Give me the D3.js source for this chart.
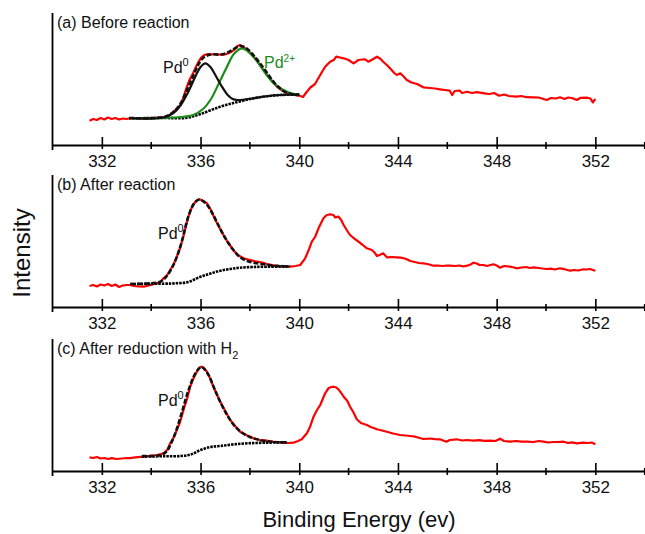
<!DOCTYPE html>
<html>
<head>
<meta charset="utf-8">
<script src="https://cdn.jsdelivr.net/npm/d3@7"></script>
<style>
  html, body { margin: 0; padding: 0; background: #fff; }
  svg { display: block; font-family: "Liberation Sans", Arial, sans-serif; }
</style>
</head>
<body>
<div id="chart"></div>
<script>
// binding energy ticks (eV)
const majorTicks = [332, 336, 340, 344, 348, 352];
const minorTicks = [334, 338, 342, 346, 350, 354];

// (a) before reaction: [energy, intensity a.u.]
const rawA = [
  [331.5, 0.243], [331.65, 0.26], [331.8, 0.25], [331.95, 0.27], [332.1, 0.255], [332.25, 0.275],
  [332.4, 0.26], [332.55, 0.27], [332.7, 0.255], [332.85, 0.265], [333.0, 0.26], [333.2, 0.27],
  [333.4, 0.265], [333.6, 0.27], [333.8, 0.268], [334.0, 0.27], [334.2, 0.272], [334.4, 0.275],
  [334.6, 0.28], [334.75, 0.30], [334.9, 0.333], [335.1, 0.37], [335.25, 0.43], [335.4, 0.55],
  [335.55, 0.65], [335.7, 0.72], [335.85, 0.80], [335.95, 0.845], [336.05, 0.88], [336.15, 0.9],
  [336.3, 0.91], [336.45, 0.905], [336.6, 0.91], [336.75, 0.905], [336.9, 0.90], [337.05, 0.91],
  [337.2, 0.925], [337.35, 0.95], [337.5, 0.99], [337.6, 1.0], [337.75, 0.975], [337.9, 0.95],
  [338.1, 0.90], [338.3, 0.84], [338.55, 0.75], [338.8, 0.67], [339.1, 0.583], [339.3, 0.545],
  [339.5, 0.52], [339.8, 0.50], [340.05, 0.49], [340.15, 0.48], [340.3, 0.53], [340.45, 0.575],
  [340.64, 0.61], [340.85, 0.70], [341.05, 0.783], [341.25, 0.833], [341.4, 0.85], [341.5, 0.883],
  [341.65, 0.875], [341.8, 0.867], [342.0, 0.85], [342.2, 0.817], [342.4, 0.85], [342.55, 0.855],
  [342.67, 0.857], [342.8, 0.833], [343.0, 0.86], [343.15, 0.883], [343.3, 0.86], [343.4, 0.833],
  [343.55, 0.80], [343.68, 0.767], [343.85, 0.72], [343.95, 0.70], [344.1, 0.717], [344.25, 0.68],
  [344.36, 0.65], [344.55, 0.625], [344.77, 0.61], [345.03, 0.577], [345.3, 0.57], [345.5, 0.565],
  [345.7, 0.557], [345.9, 0.55], [346.1, 0.543], [346.2, 0.50], [346.3, 0.54], [346.5, 0.545],
  [346.6, 0.52], [346.8, 0.533], [347.0, 0.52], [347.2, 0.528], [347.5, 0.517], [347.7, 0.51],
  [347.9, 0.52], [348.1, 0.493], [348.3, 0.505], [348.5, 0.49], [348.8, 0.483], [349.0, 0.49],
  [349.2, 0.478], [349.5, 0.477], [349.7, 0.475], [349.9, 0.46], [350.03, 0.45], [350.2, 0.47],
  [350.4, 0.465], [350.57, 0.477], [350.75, 0.46], [350.9, 0.475], [351.05, 0.47], [351.25, 0.45],
  [351.4, 0.472], [351.65, 0.473], [351.8, 0.465], [351.9, 0.427], [352.0, 0.46]
];
const envA = [
  [333.1, 0.27], [334.5, 0.28], [334.9, 0.33], [335.2, 0.42], [335.45, 0.55], [335.7, 0.69],
  [335.9, 0.80], [336.1, 0.87], [336.4, 0.905], [336.8, 0.905], [337.1, 0.925], [337.35, 0.96],
  [337.6, 0.99], [337.85, 0.97], [338.1, 0.91], [338.4, 0.82], [338.7, 0.72], [339.0, 0.62],
  [339.3, 0.55], [339.6, 0.515], [340.0, 0.50]
];
const pd0A = [
  [333.1, 0.27], [334.5, 0.275], [334.9, 0.32], [335.2, 0.40], [335.5, 0.53], [335.8, 0.69],
  [336.0, 0.78], [336.2, 0.817], [336.4, 0.78], [336.6, 0.70], [336.85, 0.59], [337.1, 0.50],
  [337.3, 0.46], [337.5, 0.45], [338.14, 0.467], [338.6, 0.485], [339.23, 0.50], [340.0, 0.505]
];
const pd2A = [
  [333.3, 0.267], [334.5, 0.27], [335.2, 0.28], [335.7, 0.30], [336.1, 0.36], [336.4, 0.45],
  [336.75, 0.62], [337.07, 0.783], [337.35, 0.91], [337.67, 0.967], [337.9, 0.94], [338.14, 0.883],
  [338.4, 0.80], [338.68, 0.70], [339.0, 0.61], [339.36, 0.55], [339.7, 0.515], [340.0, 0.505]
];
const bgA = [
  [333.1, 0.267], [334.5, 0.27], [335.45, 0.272], [336.0, 0.31], [336.8, 0.383], [337.5, 0.43],
  [338.14, 0.467], [338.7, 0.488], [339.23, 0.50], [340.0, 0.505]
];

// (b) after reaction
const rawB = [
  [331.5, 0.21], [331.65, 0.22], [331.8, 0.205], [331.95, 0.225], [332.1, 0.215], [332.25, 0.23],
  [332.4, 0.21], [332.55, 0.225], [332.7, 0.20], [332.85, 0.215], [333.0, 0.22], [333.15, 0.22],
  [333.3, 0.21], [333.5, 0.205], [333.7, 0.203], [333.9, 0.215], [334.1, 0.23], [334.23, 0.237],
  [334.37, 0.25], [334.5, 0.287], [334.65, 0.32], [334.77, 0.37], [334.9, 0.42], [335.04, 0.503],
  [335.17, 0.59], [335.3, 0.703], [335.4, 0.80], [335.5, 0.90], [335.6, 0.97], [335.7, 1.02],
  [335.82, 1.06], [335.96, 1.077], [336.1, 1.06], [336.26, 1.037], [336.4, 0.98], [336.6, 0.87],
  [336.75, 0.80], [336.93, 0.72], [337.1, 0.65], [337.33, 0.57], [337.5, 0.52], [337.74, 0.487],
  [338.0, 0.47], [338.28, 0.453], [338.5, 0.445], [338.69, 0.43], [338.9, 0.42], [339.09, 0.41],
  [339.3, 0.405], [339.63, 0.403], [339.85, 0.41], [340.04, 0.42], [340.24, 0.487], [340.4, 0.58],
  [340.51, 0.653], [340.64, 0.70], [340.78, 0.787], [340.98, 0.887], [341.1, 0.917], [341.25, 0.927],
  [341.39, 0.92], [341.45, 0.897], [341.59, 0.903], [341.7, 0.87], [341.8, 0.82], [341.95, 0.76],
  [342.06, 0.72], [342.2, 0.69], [342.4, 0.653], [342.55, 0.625], [342.74, 0.587], [342.94, 0.57],
  [343.05, 0.545], [343.15, 0.51], [343.3, 0.525], [343.4, 0.537], [343.55, 0.497], [343.75, 0.50],
  [343.95, 0.497], [344.1, 0.493], [344.2, 0.49], [344.36, 0.477], [344.5, 0.46], [344.63, 0.453],
  [344.85, 0.44], [345.03, 0.437], [345.2, 0.43], [345.44, 0.413], [345.6, 0.415], [345.8, 0.41],
  [346.0, 0.415], [346.12, 0.413], [346.3, 0.41], [346.5, 0.415], [346.65, 0.405], [346.8, 0.413],
  [346.95, 0.425], [347.06, 0.443], [347.2, 0.435], [347.3, 0.42], [347.47, 0.42], [347.6, 0.41],
  [347.75, 0.42], [347.87, 0.427], [348.0, 0.415], [348.14, 0.393], [348.3, 0.41], [348.54, 0.403],
  [348.7, 0.395], [348.81, 0.387], [349.0, 0.395], [349.2, 0.40], [349.35, 0.39], [349.5, 0.397],
  [349.7, 0.39], [349.85, 0.385], [350.03, 0.38], [350.2, 0.383], [350.35, 0.375], [350.57, 0.387],
  [350.75, 0.378], [350.98, 0.363], [351.15, 0.37], [351.3, 0.365], [351.52, 0.377], [351.65, 0.375],
  [351.79, 0.38], [351.9, 0.37], [352.0, 0.363]
];
const envB = [
  [333.15, 0.23], [334.37, 0.253], [334.6, 0.30], [334.9, 0.42], [335.2, 0.62], [335.5, 0.90],
  [335.75, 1.04], [335.95, 1.075], [336.2, 1.04], [336.45, 0.95], [336.7, 0.83], [337.0, 0.69],
  [337.3, 0.58], [337.6, 0.50], [337.9, 0.46], [338.2, 0.44], [338.5, 0.43], [338.9, 0.415],
  [339.2, 0.41], [339.6, 0.405]
];
const bgB = [
  [333.15, 0.23], [334.5, 0.233], [335.0, 0.237], [335.5, 0.25], [336.0, 0.303], [336.4, 0.335],
  [336.8, 0.363], [337.2, 0.38], [337.6, 0.393], [338.1, 0.40], [338.7, 0.403], [339.6, 0.405]
];

// (c) after reduction with H2
const rawC = [
  [331.5, 0.137], [331.65, 0.13], [331.8, 0.14], [331.95, 0.125], [332.1, 0.13], [332.25, 0.12],
  [332.4, 0.128], [332.6, 0.12], [332.8, 0.125], [333.0, 0.13], [333.15, 0.128], [333.28, 0.133],
  [333.45, 0.138], [333.7, 0.143], [333.9, 0.15], [334.05, 0.155], [334.23, 0.16], [334.4, 0.17],
  [334.5, 0.177], [334.65, 0.21], [334.77, 0.277], [334.9, 0.33], [335.04, 0.41], [335.17, 0.49],
  [335.31, 0.61], [335.45, 0.72], [335.58, 0.843], [335.72, 0.93], [335.85, 0.993], [335.95, 1.03],
  [336.03, 1.043], [336.12, 1.035], [336.26, 0.993], [336.4, 0.92], [336.52, 0.843], [336.65, 0.77],
  [336.8, 0.693], [337.0, 0.60], [337.2, 0.51], [337.4, 0.45], [337.6, 0.393], [337.85, 0.36],
  [338.14, 0.327], [338.4, 0.31], [338.68, 0.303], [339.0, 0.29], [339.36, 0.283], [339.55, 0.28],
  [339.77, 0.283], [339.95, 0.30], [340.1, 0.317], [340.31, 0.377], [340.44, 0.443], [340.58, 0.543],
  [340.72, 0.61], [340.85, 0.66], [341.05, 0.777], [341.18, 0.827], [341.3, 0.84], [341.39, 0.843],
  [341.5, 0.835], [341.59, 0.817], [341.7, 0.78], [341.8, 0.743], [341.95, 0.70], [342.06, 0.643],
  [342.2, 0.585], [342.33, 0.517], [342.5, 0.48], [342.74, 0.46], [342.9, 0.44], [343.15, 0.417],
  [343.35, 0.405], [343.55, 0.393], [343.8, 0.375], [344.09, 0.36], [344.3, 0.355], [344.5, 0.35],
  [344.7, 0.343], [345.03, 0.32], [345.3, 0.325], [345.5, 0.318], [345.7, 0.317], [345.97, 0.293],
  [346.1, 0.31], [346.38, 0.317], [346.6, 0.305], [346.8, 0.31], [347.06, 0.303], [347.3, 0.308],
  [347.5, 0.302], [347.73, 0.303], [347.95, 0.30], [348.14, 0.323], [348.3, 0.30], [348.54, 0.293],
  [348.8, 0.30], [349.0, 0.293], [349.22, 0.293], [349.5, 0.29], [349.7, 0.30], [349.9, 0.293],
  [350.1, 0.285], [350.3, 0.29], [350.5, 0.29], [350.71, 0.293], [350.9, 0.28], [351.05, 0.287],
  [351.25, 0.277], [351.5, 0.283], [351.7, 0.28], [351.85, 0.285], [352.0, 0.267]
];
const envC = [
  [333.62, 0.15], [334.3, 0.155], [334.6, 0.19], [334.9, 0.33], [335.2, 0.55], [335.5, 0.80],
  [335.8, 0.98], [336.03, 1.04], [336.3, 0.97], [336.55, 0.83], [336.8, 0.69], [337.1, 0.55],
  [337.4, 0.445], [337.7, 0.38], [338.0, 0.34], [338.4, 0.31], [338.8, 0.295], [339.2, 0.288],
  [339.5, 0.287]
];
const bgC = [
  [333.62, 0.143], [334.5, 0.148], [335.2, 0.15], [335.6, 0.165], [336.0, 0.21], [336.4, 0.24],
  [336.8, 0.25], [337.3, 0.265], [337.9, 0.277], [338.6, 0.283], [339.5, 0.287]
];

const panels = [
  {top: 13, bottom: 145, title: "(a) Before reaction", raw: rawA, env: envA, bg: bgA, pd0: pd0A, pd2: pd2A,
   pd0Label: [163, 73], pd2Label: [264, 68]},
  {top: 175, bottom: 307, title: "(b) After reaction", raw: rawB, env: envB, bg: bgB,
   pd0Label: [158, 239]},
  {top: 339, bottom: 471, title: "(c) After reduction with H", sub: "2", raw: rawC, env: envC, bg: bgC,
   pd0Label: [158, 406]}
];

const width = 645;
const height = 534;
const marginLeft = 52.5;

const svg = d3.create("svg")
    .attr("width", width)
    .attr("height", height)
    .attr("viewBox", [0, 0, width, height]);

const x = d3.scaleLinear()
    .domain([330, 354])
    .range([marginLeft, 644.7]);

for (const p of panels) {
    const y = d3.scaleLinear()
        .domain([0, 1.32])
        .range([p.bottom, p.top]);

    const line = d3.line()
        .x(d => x(d[0]))
        .y(d => y(d[1]));
    const smooth = d3.line()
        .curve(d3.curveCatmullRom)
        .x(d => x(d[0]))
        .y(d => y(d[1]));

    const g = svg.append("g");

    // left axis, plain line
    g.append("line")
        .attr("x1", marginLeft).attr("x2", marginLeft)
        .attr("y1", p.top).attr("y2", p.bottom + 5)
        .attr("stroke", "black")
        .attr("stroke-width", 1.8);

    // bottom axis, major ticks crossing the line
    g.append("g")
        .attr("transform", `translate(0,${p.bottom})`)
        .call(d3.axisBottom(x).tickValues(majorTicks).tickSizeOuter(0).tickFormat(d3.format("d")))
        .call(g => g.select(".domain").attr("stroke-width", 1.8))
        .call(g => g.selectAll(".tick line").attr("y1", -8).attr("y2", 4).attr("stroke-width", 1.6))
        .call(g => g.selectAll(".tick text")
            .attr("y", 22).attr("dy", null)
            .attr("font-size", 17)
            .attr("font-family", "Liberation Sans, Arial, sans-serif")
            .attr("fill", "#111"));

    g.append("g")
        .selectAll("line")
        .data(minorTicks)
        .join("line")
        .attr("x1", d => x(d)).attr("x2", d => x(d))
        .attr("y1", p.bottom - 3).attr("y2", p.bottom + 4)
        .attr("stroke", "black")
        .attr("stroke-width", 1.6);

    // measured spectrum
    g.append("path")
        .datum(p.raw)
        .attr("fill", "none")
        .attr("stroke", "#ff0000")
        .attr("stroke-width", 2.2)
        .attr("stroke-linejoin", "round")
        .attr("d", line);

    // background
    g.append("path")
        .datum(p.bg)
        .attr("fill", "none")
        .attr("stroke", "#000")
        .attr("stroke-width", 2.6)
        .attr("stroke-dasharray", "2.5,1")
        .attr("d", smooth);

    if (p.pd2) {
        g.append("path")
            .datum(p.pd2)
            .attr("fill", "none")
            .attr("stroke", "#1a8c1a")
            .attr("stroke-width", 2.2)
            .attr("d", smooth);
    }
    if (p.pd0) {
        g.append("path")
            .datum(p.pd0)
            .attr("fill", "none")
            .attr("stroke", "#111")
            .attr("stroke-width", 2.2)
            .attr("d", smooth);
    }

    // fitted envelope, dashed over the data
    g.append("path")
        .datum(p.env)
        .attr("fill", "none")
        .attr("stroke", "#111")
        .attr("stroke-width", 2.6)
        .attr("stroke-dasharray", "5,2")
        .attr("d", smooth);

    // panel title
    const t = g.append("text")
        .attr("x", 57)
        .attr("y", p.top + 15)
        .attr("font-size", 16)
        .attr("fill", "#111")
        .text(p.title);
    if (p.sub) {
        t.append("tspan").attr("font-size", 11).attr("dy", 5).text(p.sub);
    }

    // peak labels
    const l0 = g.append("text")
        .attr("x", p.pd0Label[0])
        .attr("y", p.pd0Label[1])
        .attr("font-size", 16)
        .attr("fill", "#111")
        .text("Pd");
    l0.append("tspan").attr("font-size", 11).attr("dy", -7).text("0");

    if (p.pd2Label) {
        const l2 = g.append("text")
            .attr("x", p.pd2Label[0])
            .attr("y", p.pd2Label[1])
            .attr("font-size", 16)
            .attr("fill", "#1a8c1a")
            .text("Pd");
        l2.append("tspan").attr("font-size", 10).attr("dy", -6).text("2+");
    }
}

// axis titles
svg.append("text")
    .attr("transform", "translate(30,253) rotate(-90)")
    .attr("text-anchor", "middle")
    .attr("font-size", 24)
    .attr("fill", "#111")
    .text("Intensity");

svg.append("text")
    .attr("x", 359)
    .attr("y", 527)
    .attr("text-anchor", "middle")
    .attr("font-size", 22)
    .attr("fill", "#111")
    .text("Binding Energy (ev)");

document.getElementById("chart").append(svg.node());
</script>
</body>
</html>
